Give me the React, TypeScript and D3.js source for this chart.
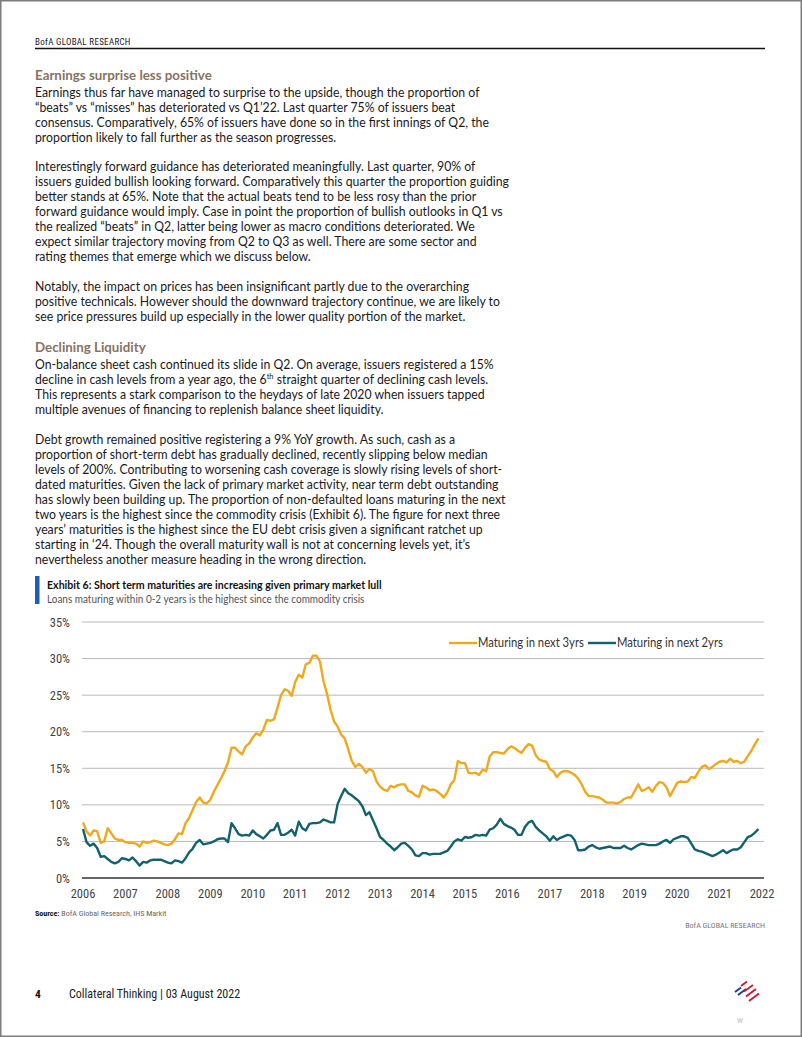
import React, { useLayoutEffect, useRef, useState } from "react";
import * as d3 from "d3";

// ---------- DATA ----------
const years = [2006, 2007, 2008, 2009, 2010, 2011, 2012, 2013, 2014, 2015, 2016, 2017, 2018, 2019, 2020, 2021];
const xTickYears = [2006, 2007, 2008, 2009, 2010, 2011, 2012, 2013, 2014, 2015, 2016, 2017, 2018, 2019, 2020, 2021, 2022];
const yTicks = [0, 5, 10, 15, 20, 25, 30, 35];
const seriesNames = ["Maturing in next 3yrs", "Maturing in next 2yrs"];

// Monthly values (%), one row per year
const maturing3yrs: number[][] = [
  [7.6, 6.4, 5.8, 6.5, 6.4, 4.8, 5.0, 6.8, 6.1, 5.4, 5.2, 5.2],
  [4.9, 4.8, 4.8, 4.7, 4.3, 5.0, 4.8, 4.9, 5.1, 5.0, 4.8, 4.6],
  [4.5, 4.7, 5.3, 6.1, 6.0, 7.5, 8.2, 9.3, 10.4, 11.0, 10.3, 10.2],
  [10.7, 11.8, 12.7, 13.6, 14.6, 15.8, 17.8, 17.8, 17.3, 16.9, 18.0, 18.4],
  [19.2, 19.8, 19.5, 20.3, 21.6, 21.5, 21.7, 23.3, 25.0, 25.8, 25.6, 24.9],
  [26.8, 27.8, 27.4, 29.2, 29.4, 30.4, 30.4, 29.6, 26.9, 25.2, 23.0, 21.4],
  [20.7, 19.6, 19.1, 17.6, 16.0, 15.2, 15.6, 15.2, 14.4, 14.9, 14.6, 13.2],
  [12.5, 12.1, 11.9, 12.6, 12.4, 12.7, 12.8, 12.8, 11.9, 11.7, 11.3, 11.1],
  [12.6, 12.4, 12.0, 12.1, 11.9, 11.5, 11.0, 11.7, 12.8, 13.4, 16.0, 15.7],
  [15.7, 14.4, 14.3, 14.4, 14.1, 14.8, 14.6, 16.6, 17.2, 17.2, 17.1, 17.0],
  [17.6, 18.0, 17.8, 17.4, 17.1, 17.8, 18.3, 18.1, 16.8, 16.2, 16.0, 15.9],
  [14.9, 14.6, 13.8, 14.4, 14.6, 14.6, 14.4, 14.1, 13.6, 12.8, 11.8, 11.2],
  [11.2, 11.1, 11.0, 10.7, 10.3, 10.3, 10.3, 10.2, 10.4, 10.8, 11.0, 11.0],
  [11.9, 12.8, 11.9, 12.1, 12.4, 11.8, 12.6, 13.1, 13.0, 12.4, 11.2, 12.1],
  [13.0, 13.2, 13.1, 13.2, 13.8, 13.7, 14.5, 15.2, 15.4, 14.9, 15.2, 15.6],
  [15.9, 16.0, 15.8, 16.3, 15.9, 16.0, 15.7, 15.9, 16.7, 17.4, 18.3, 19.1],
];

const maturing2yrs: number[][] = [
  [6.7, 4.9, 4.4, 4.7, 4.1, 2.9, 3.0, 2.6, 2.2, 2.0, 2.2, 2.7],
  [2.6, 2.4, 2.8, 2.3, 1.7, 2.2, 2.1, 2.4, 2.5, 2.5, 2.5, 2.3],
  [2.1, 2.0, 2.4, 2.3, 2.1, 2.7, 3.5, 4.0, 4.8, 5.2, 4.6, 4.7],
  [4.8, 5.0, 5.3, 5.4, 5.4, 4.9, 7.5, 6.8, 6.0, 5.8, 5.9, 5.8],
  [6.5, 6.0, 5.7, 5.4, 5.9, 6.5, 6.6, 7.5, 5.9, 5.9, 6.2, 6.6],
  [5.8, 7.7, 6.8, 6.5, 7.4, 7.5, 7.5, 7.6, 8.0, 7.8, 7.6, 7.6],
  [10.1, 11.2, 12.2, 11.6, 11.3, 10.9, 10.5, 9.8, 8.6, 9.0, 7.9, 6.8],
  [5.6, 5.2, 4.7, 4.3, 3.8, 4.2, 4.7, 4.8, 4.4, 3.9, 3.1, 3.0],
  [3.4, 3.4, 3.2, 3.3, 3.3, 3.3, 3.5, 3.7, 4.3, 5.0, 5.3, 5.1],
  [5.6, 5.5, 5.6, 5.9, 5.8, 5.9, 5.8, 6.6, 6.8, 7.3, 8.1, 7.4],
  [7.1, 6.9, 6.6, 5.9, 5.9, 7.0, 7.6, 7.8, 7.0, 6.5, 6.1, 5.7],
  [5.1, 5.7, 5.2, 5.5, 5.7, 5.9, 5.8, 5.2, 3.8, 3.8, 3.9, 4.3],
  [4.5, 4.2, 4.0, 4.1, 4.2, 4.3, 4.1, 4.1, 4.1, 4.4, 4.1, 3.9],
  [4.2, 4.5, 4.7, 4.6, 4.5, 4.5, 4.5, 4.7, 5.0, 5.2, 4.8, 5.3],
  [5.5, 5.7, 5.7, 5.5, 4.7, 3.9, 3.7, 3.6, 3.4, 3.2, 3.0, 3.2],
  [3.5, 3.8, 3.4, 3.7, 3.9, 3.9, 4.2, 4.9, 5.6, 5.8, 6.2, 6.7],
];

// ---------- TEXT ----------
const para1 = [
  "Earnings thus far have managed to surprise to the upside, though the proportion of",
  "\u201Cbeats\u201D vs \u201Cmisses\u201D has deteriorated vs Q1\u201922. Last quarter 75% of issuers beat",
  "consensus. Comparatively, 65% of issuers have done so in the first innings of Q2, the",
  "proportion likely to fall further as the season progresses.",
];
const para2 = [
  "Interestingly forward guidance has deteriorated meaningfully. Last quarter, 90% of",
  "issuers guided bullish looking forward. Comparatively this quarter the proportion guiding",
  "better stands at 65%. Note that the actual beats tend to be less rosy than the prior",
  "forward guidance would imply. Case in point the proportion of bullish outlooks in Q1 vs",
  "the realized \u201Cbeats\u201D in Q2, latter being lower as macro conditions deteriorated. We",
  "expect similar trajectory moving from Q2 to Q3 as well. There are some sector and",
  "rating themes that emerge which we discuss below.",
];
const para3 = [
  "Notably, the impact on prices has been insignificant partly due to the overarching",
  "positive technicals. However should the downward trajectory continue, we are likely to",
  "see price pressures build up especially in the lower quality portion of the market.",
];
const para4 = [
  "On-balance sheet cash continued its slide in Q2. On average, issuers registered a 15%",
  "SUP",
  "This represents a stark comparison to the heydays of late 2020 when issuers tapped",
  "multiple avenues of financing to replenish balance sheet liquidity.",
];
const para5 = [
  "Debt growth remained positive registering a 9% YoY growth. As such, cash as a",
  "proportion of short-term debt has gradually declined, recently slipping below median",
  "levels of 200%. Contributing to worsening cash coverage is slowly rising levels of short-",
  "dated maturities. Given the lack of primary market activity, near term debt outstanding",
  "has slowly been building up. The proportion of non-defaulted loans maturing in the next",
  "two years is the highest since the commodity crisis (Exhibit 6). The figure for next three",
  "years\u2019 maturities is the highest since the EU debt crisis given a significant ratchet up",
  "starting in \u201824. Though the overall maturity wall is not at concerning levels yet, it\u2019s",
  "nevertheless another measure heading in the wrong direction.",
];

const FONT = "'Liberation Sans Narrow', 'Arial Narrow', 'Roboto Condensed', Roboto, sans-serif";
const BODY_FONT = "Lato, 'Open Sans', sans-serif";
const ORANGE = "#F0A81C";
const TEAL = "#12616F";

export default function App() {
  const W = 802, H = 1037;
  const x = d3.scaleLinear().domain([2006, 2022]).range([83, 762]);
  const y = d3.scaleLinear().domain([0, 35]).range([878, 622]);

  const flat = (rows: number[][]) =>
    rows.flatMap((row, yi) => row.map((v, m) => ({ t: years[yi] + m / 12, v })));
  const d3yrs = flat(maturing3yrs);
  const d2yrs = flat(maturing2yrs);
  const line = d3
    .line<{ t: number; v: number }>()
    .x((d) => x(d.t))
    .y((d) => y(d.v));

  const refs = {
    body: useRef<SVGTextElement>(null),
    head: useRef<SVGTextElement>(null),
    title: useRef<SVGTextElement>(null),
    sub: useRef<SVGTextElement>(null),
    leg: useRef<SVGTextElement>(null),
  };
  const [sc, setSc] = useState({ body: 1, head: 1, title: 1, sub: 1, leg: 1 });
  useLayoutEffect(() => {
    const m = (r: React.RefObject<SVGTextElement>, target: number) => {
      const el = r.current;
      if (!el) return 1;
      const w = el.getComputedTextLength();
      return w > 0 ? target / w : 1;
    };
    setSc({
      body: m(refs.body, 445),
      head: m(refs.head, 177),
      title: m(refs.title, 335),
      sub: m(refs.sub, 318),
      leg: m(refs.leg, 106),
    });
  }, []);

  const bodyLine = (s: string, yy: number, key: string, ref?: any) => {
    if (s === "SUP") {
      return (
        <text key={key} x={0} y={yy} fontSize={13} fill="#1a1a1a">
          decline in cash levels from a year ago, the 6
          <tspan fontSize={8} dy={-5}>th</tspan>
          <tspan dy={5}> straight quarter of declining cash levels.</tspan>
        </text>
      );
    }
    return (
      <text key={key} ref={ref} x={0} y={yy} fontSize={13} fill="#1a1a1a">
        {s}
      </text>
    );
  };

  const LH = 15;
  const block = (lines: string[], y0: number, k: string, firstRef?: any) =>
    lines.map((s, i) => bodyLine(s, y0 + i * LH, k + i, i === 0 ? firstRef : undefined));

  return (
    <svg
      width={W}
      height={H}
      viewBox={`0 0 ${W} ${H}`}
      style={{ position: "absolute", left: 0, top: 0, background: "#fff" }}
    >
      <rect x={0.75} y={0.75} width={W - 1.5} height={H - 1.5} fill="#fff" stroke="#7d7d7d" strokeWidth={1.5} />

      {/* header */}
      <text x={35} y={45} fontSize={9} fontFamily={FONT} fill="#222" letterSpacing={0.3}>
        BofA GLOBAL RESEARCH
      </text>
      <line x1={35} x2={765} y1={48.5} y2={48.5} stroke="#111" strokeWidth={1.4} />

      {/* body */}
      <g fontFamily={BODY_FONT}>
        <g transform={`translate(35,0) scale(${sc.head},1)`}>
          <text ref={refs.head} x={0} y={80.5} fontSize={13} fontWeight="bold" fill="#86735f">
            Earnings surprise less positive
          </text>
          <text x={0} y={352} fontSize={13} fontWeight="bold" fill="#86735f">
            Declining Liquidity
          </text>
        </g>
        <g transform={`translate(35,0) scale(${sc.body},1)`}>
          {block(para1, 97.5, "p1", refs.body)}
          {block(para2, 171.5, "p2")}
          {block(para3, 291.5, "p3")}
          {block(para4, 369.5, "p4")}
          {block(para5, 444.5, "p5")}
        </g>
      </g>

      {/* exhibit title */}
      <rect x={35} y={576} width={4.5} height={28} fill="#1d5fb8" />
      <g fontFamily={BODY_FONT}>
        <g transform={`translate(47,0) scale(${sc.title},1)`}>
          <text ref={refs.title} x={0} y={589} fontSize={12} fontWeight="bold" fill="#111">
            Exhibit 6: Short term maturities are increasing given primary market lull
          </text>
        </g>
        <g transform={`translate(47,0) scale(${sc.sub},1)`}>
          <text ref={refs.sub} x={0} y={603} fontSize={12} fill="#555">
            Loans maturing within 0-2 years is the highest since the commodity crisis
          </text>
        </g>
      </g>

      {/* gridlines */}
      {yTicks.map((t) =>
        t === 0 ? null : (
          <line key={"g" + t} x1={82} x2={764} y1={y(t)} y2={y(t)} stroke="#b9b9b9" strokeWidth={1} />
        )
      )}
      <line x1={82} x2={764} y1={y(0)} y2={y(0)} stroke="#333" strokeWidth={1.5} />

      {/* y labels */}
      {yTicks.map((t) => (
        <text
          key={"yl" + t}
          x={70}
          y={y(t) + 4.5}
          textAnchor="end"
          fontSize={12.5}
          fontFamily={FONT}
          fill="#444"
        >
          {t}%
        </text>
      ))}
      {/* x labels */}
      {xTickYears.map((t) => (
        <text
          key={"xl" + t}
          x={x(t)}
          y={897.5}
          textAnchor="middle"
          fontSize={12.5}
          fontFamily={FONT}
          fill="#444"
        >
          {t}
        </text>
      ))}

      {/* lines */}
      <path d={line(d3yrs) || ""} fill="none" stroke={ORANGE} strokeWidth={2.4} strokeLinejoin="round" />
      <path d={line(d2yrs) || ""} fill="none" stroke={TEAL} strokeWidth={2.4} strokeLinejoin="round" />

      {/* legend */}
      <line x1={449} x2={477} y1={643} y2={643} stroke={ORANGE} strokeWidth={2.4} />
      <g transform={`translate(478,0) scale(${sc.leg},1)`}>
        <text ref={refs.leg} x={0} y={647.5} fontSize={13} fontFamily={BODY_FONT} fill="#333">
          {seriesNames[0]}
        </text>
      </g>
      <line x1={588} x2={616} y1={643} y2={643} stroke={TEAL} strokeWidth={2.4} />
      <g transform={`translate(617,0) scale(${sc.leg},1)`}>
        <text x={0} y={647.5} fontSize={13} fontFamily={BODY_FONT} fill="#333">
          {seriesNames[1]}
        </text>
      </g>

      {/* source */}
      <text x={35} y={916} fontSize={8} fontFamily={FONT} fill="#111">
        <tspan fontWeight="bold">Source:</tspan>
        <tspan fill="#666">{"  BofA Global Research, IHS Markit"}</tspan>
      </text>
      <text x={765} y={928} fontSize={8} fontFamily={FONT} fill="#777" textAnchor="end">
        BofA GLOBAL RESEARCH
      </text>

      {/* footer */}
      <text x={35} y={998} fontSize={11.5} fontFamily={FONT} fontWeight="bold" fill="#111">
        4
      </text>
      <text x={69} y={998} fontSize={12} fontFamily={FONT} fill="#222">
        Collateral Thinking | 03 August 2022
      </text>
      {/* logo */}
      <g strokeWidth={2} strokeLinecap="butt">
        <line x1={735} y1={992} x2={741} y2={987.5} stroke="#1f3f8f" />
        <line x1={738} y1={995} x2={746} y2={989} stroke="#1f3f8f" />
        <line x1={741} y1={986} x2={747} y2={981.5} stroke="#c8202e" />
        <line x1={744} y1={991.5} x2={753} y2={985} stroke="#c8202e" />
        <line x1={746} y1={996.5} x2={756} y2={989} stroke="#c8202e" />
        <line x1={749} y1={1001} x2={759} y2={993.5} stroke="#c8202e" />
      </g>
      <text x={737} y={1023} fontSize={8} fontFamily={FONT} fill="#bbb">
        W
      </text>
    </svg>
  );
}
